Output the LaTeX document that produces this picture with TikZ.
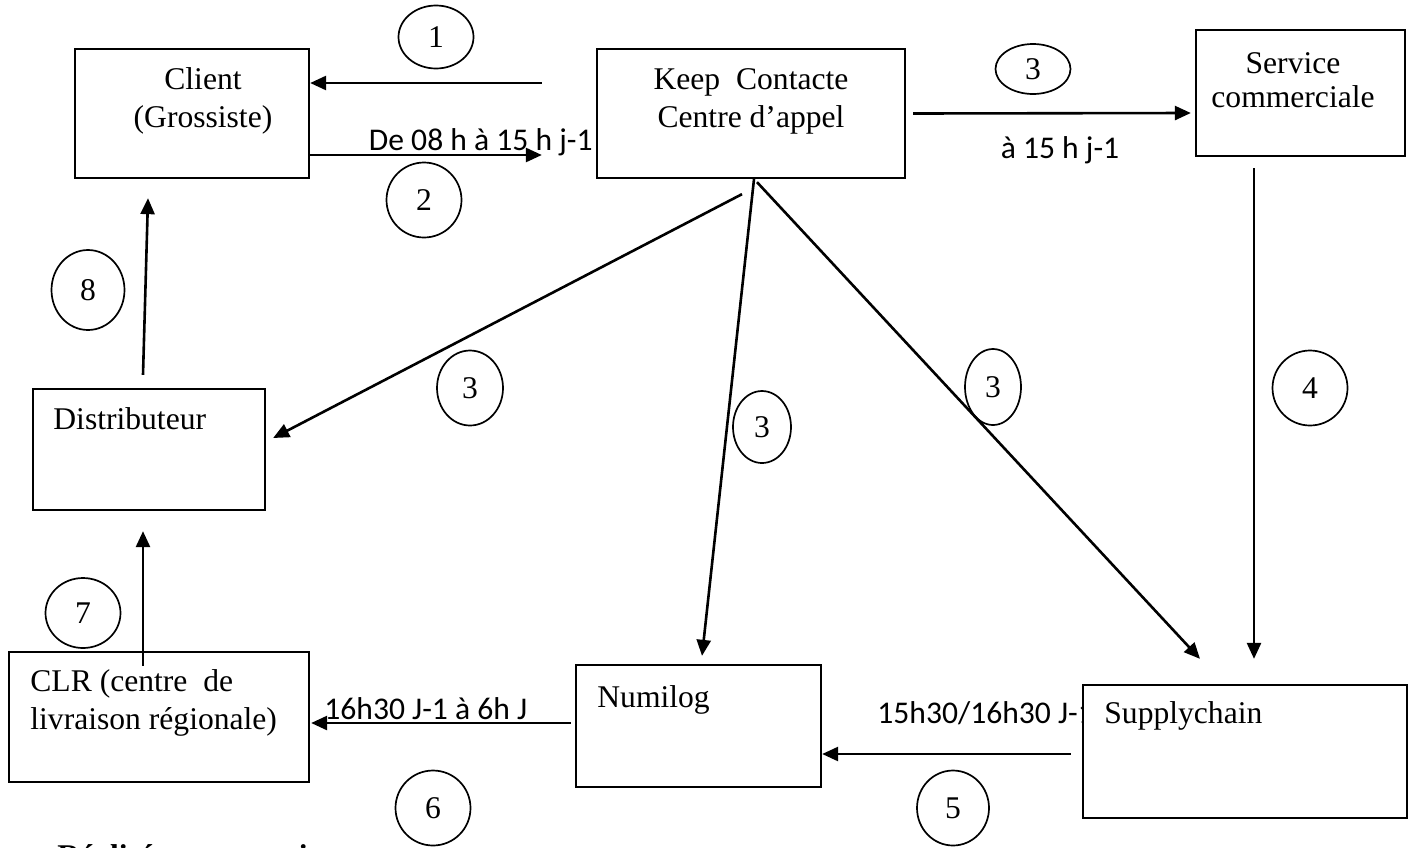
\documentclass[tikz,border=0pt]{standalone}
\usepackage{fontspec}
\setmainfont{Liberation Serif}
\newfontfamily\lblfont{Carlito}
\usetikzlibrary{shapes.geometric,arrows.meta,positioning,calc}

\begin{document}
\begin{tikzpicture}[x=0.5pt,y=-0.5pt,
    box/.style={rectangle, draw, line width=1.15pt, inner sep=0pt, fill=white},
    txt/.style={inner sep=0pt, font=\fontsize{15.8}{19}\selectfont},
    tlbl/.style={inner sep=0pt, font=\lblfont\fontsize{15.8}{19}\selectfont},
    num/.style={ellipse, draw, line width=0.85pt, inner sep=0pt, font=\fontsize{15.8}{19}\selectfont},
    arr/.style={line width=1.3pt, -{Triangle[length=8pt,width=7pt]}}]
    \useasboundingbox (0,0) rectangle (1419,847);
    % blocs
    \node[box, minimum width=117pt, minimum height=64.5pt] (client) at (192,113.5) {};
    \node[box, minimum width=154pt, minimum height=64.5pt] (keep) at (751,113.5) {};
    \node[box, minimum width=104.5pt, minimum height=63pt] (service) at (1300.5,93) {};
    \node[box, minimum width=116pt, minimum height=60.5pt] (distrib) at (149,449.5) {};
    \node[box, minimum width=150pt, minimum height=65pt] (clr) at (159,717) {};
    \node[box, minimum width=122.5pt, minimum height=61pt] (numilog) at (698.5,726) {};
    \node[tlbl, anchor=base west] (lblE) at (877,723) {15h30/16h30 J-1};
    \node[box, minimum width=162pt, minimum height=66.5pt] (supply) at (1245,751.5) {};
    % textes des blocs
    \node[txt, align=center, anchor=base] (clientT) at (203,127) {Client\\ (Grossiste)};
    \node[txt, align=center, anchor=base] (keepT) at (751,127) {Keep\ \ Contacte\\Centre d’appel};
    \node[txt, align=center, anchor=base] (serviceT) at (1293,107) {Service\\[-2pt]commerciale};
    \node[txt, anchor=base west] (distribT) at (53,429) {Distributeur};
    \node[txt, align=left, anchor=base west] (clrT) at (30,729) {CLR (centre\ \ de\\livraison régionale)};
    \node[txt, anchor=base west] (numilogT) at (597,707) {Numilog};
    \node[txt, anchor=base west] (supplyT) at (1104,723) {Supplychain};
    % etapes
    \node[num, minimum width=37.5pt, minimum height=31.5pt] (n1) at (436,37) {1};
    \node[num, minimum width=37.5pt, minimum height=37.5pt] (n2) at (424,200) {2};
    \node[num, minimum width=37.5pt, minimum height=25pt] (n3a) at (1033,69) {3};
    \node[num, minimum width=33pt, minimum height=37.5pt] (n3b) at (470,388) {3};
    \node[num, minimum width=29pt, minimum height=36pt] (n3c) at (762,427) {3};
    \node[num, minimum width=28pt, minimum height=38pt] (n3d) at (993,387) {3};
    \node[num, minimum width=37.5pt, minimum height=37.5pt] (n4) at (1310,388) {4};
    \node[num, minimum width=36pt, minimum height=37.5pt] (n5) at (953,808) {5};
    \node[num, minimum width=37.5pt, minimum height=37.5pt] (n6) at (433,808) {6};
    \node[num, minimum width=37.5pt, minimum height=35pt] (n7) at (83,613) {7};
    \node[num, minimum width=36.5pt, minimum height=40pt] (n8) at (88,290) {8};
    % liens
    \draw[arr] ([xshift=-27pt,yshift=15.25pt]keep.west) -- ([yshift=15.25pt]client.east);
    \draw[arr] ([yshift=-20.75pt]client.east) -- ([xshift=-27pt,yshift=-20.75pt]keep.west);
    \node[tlbl, anchor=base east] (lblA) at (593,150) {De 08 h à 15 h j-1};
    \draw[arr] ([xshift=3.5pt]keep.east) -- ([xshift=-2pt,yshift=-10pt]service.west);
    \node[tlbl, anchor=base] (lblB) at (1060,158) {à 15 h j-1};
    \draw[arr] ([xshift=-4.5pt,yshift=-7.5pt]keep.south) -- ([xshift=3.5pt,yshift=5.75pt]distrib.east);
    \draw[arr] ([xshift=1.5pt]keep.south) -- ([xshift=1.75pt,yshift=4pt]numilog.north);
    \draw[arr] ([xshift=3pt,yshift=-1.5pt]keep.south) -- ([xshift=-22.5pt,yshift=12.5pt]supply.north);
    \draw[arr] ([xshift=-23.25pt,yshift=-5.5pt]service.south) -- ([xshift=4.5pt,yshift=12.5pt]supply.north);
    \draw[arr] ([xshift=-5.5pt,yshift=-1.25pt]supply.west) -- ([yshift=-14pt]numilog.east);
    \draw[arr] ([xshift=-2pt,yshift=1.5pt]numilog.west) -- ([xshift=0.5pt,yshift=-3pt]clr.east);
    \node[tlbl, anchor=base west] (lblD) at (324,719) {16h30 J-1 à 6h J};
    \draw[arr] ([xshift=-8pt,yshift=-7.5pt]clr.north) -- ([xshift=-3pt,yshift=-10pt]distrib.south);
    \draw[arr] ([xshift=-3pt,yshift=6.5pt]distrib.north) -- ([xshift=-22pt,yshift=-9.5pt]client.south);
    % source
    \node[txt, font=\bfseries\fontsize{15.8}{19}\selectfont, anchor=base west] (source) at (57,866) {Réalisé par nos soins};
\end{tikzpicture}
\end{document}
